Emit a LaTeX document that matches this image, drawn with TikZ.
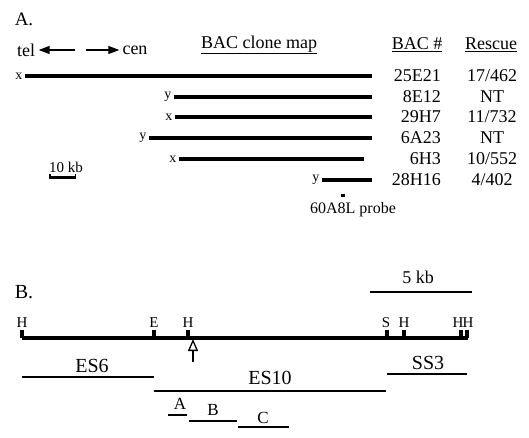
\documentclass[tikz,border=0pt]{standalone}
\usepackage{fontspec}
\setmainfont{Liberation Serif}
\usetikzlibrary{arrows.meta,positioning}

\begin{document}
\begin{tikzpicture}[x=1pt,y=-1pt]
    % Define styles
    \tikzset{
        clone/.style={line width=3.3pt},
        endlabel/.style={font=\fontsize{14}{16}\selectfont, anchor=east, inner sep=2.5pt},
        bigtext/.style={font=\fontsize{18}{20}\selectfont},
        probetext/.style={font=\fontsize{16}{18}\selectfont},
        direction/.style={line width=1.3pt, -{Triangle[length=11pt,width=8pt]}},
        sitetick/.style={line width=3.2pt},
        sitelabel/.style={font=\fontsize{15}{17}\selectfont},
        fragment/.style={line width=1.7pt},
        fraglabel/.style={font=\fontsize{20}{22}\selectfont},
        subfragment/.style={line width=2pt},
        sublabel/.style={font=\fontsize{17}{19}\selectfont}
    }

    \useasboundingbox (0,0) rectangle (529,438);

    % Panel A: BAC clone map
    \node[font=\fontsize{19}{21}\selectfont] (panelA) at (24,19) {A.};

    % Orientation arrows
    \node[bigtext, inner sep=3.5pt] (tel) at (26,50) {tel};
    \node[bigtext, inner sep=3pt] (cen) at (135,50) {cen};
    \coordinate (telstart) at (75,50);
    \coordinate (censtart) at (86,50);
    \draw[direction] (telstart) -- (tel.east);
    \draw[direction] (censtart) -- (cen.west);

    % Column headings
    \node[bigtext] (maphead) at (259,45) {\underline{BAC clone map}};
    \node[bigtext] (bachead) at (417,45) {\underline{BAC \#}};
    \node[bigtext] (reshead) at (491,45) {\underline{Rescue}};

    % Draw clones with end labels, names and rescue counts
    \foreach \i/\lbl/\xs/\xe/\y/\bac/\rescue in {
        1/x/25/372/76/25E21/{17/462},
        2/y/174/372/97/8E12/NT,
        3/x/175/372/117/29H7/{11/732},
        4/y/149/372/138/6A23/NT,
        5/x/179/364/159/6H3/{10/552},
        6/y/322/372/180/28H16/{4/402}} {
        \coordinate (s\i) at (\xs,\y);
        \coordinate (e\i) at (\xe,\y);
        \draw[clone] (s\i) -- (e\i);
        \node[endlabel] (end\i) at (s\i) {\lbl};
        \node[bigtext, anchor=east, inner sep=0pt] (bac\i) at (441,\y) {\bac};
        \node[bigtext] (res\i) at (492,\y) {\rescue};
    }

    % Scale bar
    \node[probetext, font=\fontsize{15}{17}\selectfont] (tenkb) at (66,167) {10 kb};
    \coordinate (barL) at (49,178);
    \coordinate (barR) at (76,178);
    \draw[line width=3pt] (barL) -- (barR);
    \draw[line width=1.5pt] (49.75,174.5) -- (49.75,179.5) (75.25,174.5) -- (75.25,179.5);

    % Probe
    \node[fill, minimum width=4pt, minimum height=3pt, inner sep=0pt] (probe) at (343,196) {};
    \node[probetext] (probelabel) at (353,210) {60A8L probe};

    % Panel B: restriction map
    \node[font=\fontsize{20}{22}\selectfont] (panelB) at (24,292) {B.};

    % Scale
    \node[bigtext] (fivekb) at (418,277) {5 kb};
    \coordinate (kbL) at (370,292);
    \coordinate (kbR) at (472,292);
    \draw[line width=1.3pt] (kbL) -- (kbR);

    % Main line and sites
    \coordinate (mapL) at (22,338);
    \coordinate (mapR) at (468,338);
    \draw[line width=3.3pt] (mapL) -- (mapR);
    \foreach \i/\xt/\xl/\site in {1/22/22/H, 2/154/154/E, 3/188/188/H, 4/387/386/S,
                                  5/404/404/H, 6/461/458/H, 7/467/468/H} {
        \coordinate (tb\i) at (\xt,338);
        \coordinate (tt\i) at (\xt,330);
        \draw[sitetick] (tb\i) -- (tt\i);
        \node[sitelabel] (site\i) at (\xl,323) {\site};
    }

    % Open arrow under the second H
    \coordinate (arrowbase) at (193,362);
    \coordinate (arrowtip) at (193,339);
    \draw[line width=1.3pt, -{Triangle[open,length=12pt,width=10pt]}] (arrowbase) -- (arrowtip);

    % Fragments
    \foreach \frag/\xs/\xe/\y/\xl/\yl in {ES6/22/154/377/92/366, ES10/154/386/391/270/378,
                                         SS3/387/467/374/428/363} {
        \coordinate (\frag L) at (\xs,\y);
        \coordinate (\frag R) at (\xe,\y);
        \draw[fragment] (\frag L) -- (\frag R);
        \node[fraglabel] (\frag lab) at (\xl,\yl) {\frag};
    }

    % Subfragments
    \foreach \frag/\xs/\xe/\y/\xl/\yl in {A/168/187/415/180/404, B/189/237/421/213/410,
                                         C/238/289/427/263/418} {
        \coordinate (\frag L) at (\xs,\y);
        \coordinate (\frag R) at (\xe,\y);
        \draw[subfragment] (\frag L) -- (\frag R);
        \node[sublabel] (\frag lab) at (\xl,\yl) {\frag};
    }
\end{tikzpicture}
\end{document}
